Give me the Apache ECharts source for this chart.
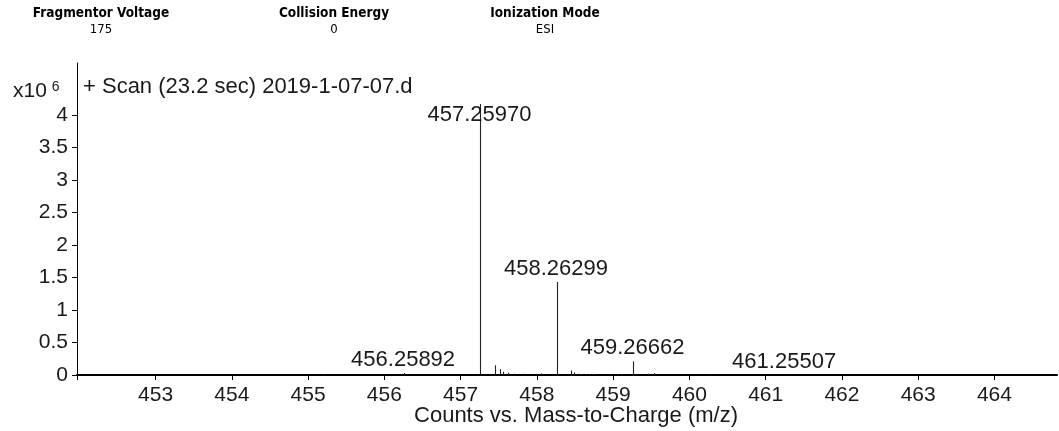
<!DOCTYPE html>
<html>
<head>
<meta charset="utf-8">
<title>Scan (23.2 sec) 2019-1-07-07.d</title>
<script src="https://cdn.jsdelivr.net/npm/echarts@6/dist/echarts.min.js"></script>
<style>
  html, body { margin: 0; padding: 0; background: #fff; }
  #chart { width: 1059px; height: 431px; }
</style>
</head>
<body>
<div id="chart"></div>
<script>
// Acquisition parameters shown in the header
const headerNames = ['Fragmentor Voltage', 'Collision Energy', 'Ionization Mode'];
const headerValues = ['175', '0', 'ESI'];

// Centroided spectrum: m/z and abundance (counts, x10^6)
const mzValues = [
  455.213, 456.25892, 457.25970, 457.447, 457.519, 457.553, 457.618, 457.706,
  457.837, 458.056, 458.26299, 458.450, 458.493, 458.525, 458.537, 458.560,
  458.580, 458.647, 458.681, 458.717, 458.752, 458.953, 459.062, 459.120,
  459.26662, 459.456, 459.535, 460.274, 461.25507
];
const intensities = [
  0.015, 0.03, 4.17, 0.15, 0.09, 0.05, 0.035, 0.02,
  0.02, 0.025, 1.43, 0.07, 0.04, 0.012, 0.02, 0.012,
  0.012, 0.015, 0.015, 0.015, 0.015, 0.015, 0.015, 0.015,
  0.21, 0.02, 0.03, 0.015, 0.006
];
// Peaks annotated with their m/z
const labelledPeaks = [456.25892, 457.25970, 458.26299, 459.26662, 461.25507];

// Axis ticks
const mzTicks = [453, 454, 455, 456, 457, 458, 459, 460, 461, 462, 463, 464];
const countTicks = [0, 0.5, 1, 1.5, 2, 2.5, 3, 3.5, 4];

const mzMin = 451.97;
const mzMax = 464.82;
const countMax = 4.8;

const spectrum = mzValues.map((mz, i) => [mz, intensities[i]]);

const chart = echarts.init(document.getElementById('chart'), null, { renderer: 'canvas' });

const textColor = '#1a1a1a';
const labelFont = 'Liberation Sans, Arial, sans-serif';
const headerFont = '"DejaVu Sans Condensed", "DejaVu Sans", sans-serif';
const headerCenters = [101, 334, 545];

function renderStick(params, api) {
  const mz = api.value(0);
  const v = api.value(1);
  const base = api.coord([mz, 0]);
  const top = api.coord([mz, v]);
  const x = Math.round(base[0]) + 0.5;
  const children = [{
    type: 'line',
    shape: { x1: x, y1: base[1], x2: x, y2: Math.min(top[1], base[1] - 0.6) },
    style: { stroke: '#222', lineWidth: 1.1 }
  }];
  if (labelledPeaks.indexOf(mz) >= 0) {
    // keep annotation at or below the highest labelled tick
    const ceiling = api.coord([mz, countTicks[countTicks.length - 1]])[1];
    const ly = Math.max(top[1] - 13, ceiling);
    children.push({
      type: 'text',
      style: {
        x: base[0] - 1, y: ly,
        text: mz.toFixed(5),
        font: '22px ' + labelFont,
        fill: textColor,
        align: 'center',
        verticalAlign: 'middle'
      },
      z2: 10
    });
  }
  return { type: 'group', children: children };
}

const headerGraphics = [];
headerNames.forEach((name, i) => {
  headerGraphics.push({
    type: 'text', x: headerCenters[i], y: 13,
    style: {
      text: name, font: 'bold 13.5px ' + headerFont, fill: '#000',
      align: 'center', verticalAlign: 'middle'
    }
  });
  headerGraphics.push({
    type: 'text', x: headerCenters[i], y: 30,
    style: {
      text: headerValues[i], font: '13px ' + headerFont, fill: '#000',
      align: 'center', verticalAlign: 'middle'
    }
  });
});

const option = {
  animation: false,
  backgroundColor: '#fff',
  grid: { left: 77, right: 2, top: 63, bottom: 56, containLabel: false, outerBoundsMode: 'none' },
  xAxis: {
    type: 'value',
    min: mzMin,
    max: mzMax,
    name: 'Counts vs. Mass-to-Charge (m/z)',
    nameLocation: 'middle',
    nameGap: 30,
    nameMoveOverlap: false,
    nameTextStyle: { fontSize: 22, fontFamily: labelFont, color: textColor, padding: [0, 0, 0, 18] },
    axisLine: { show: true, onZero: false, lineStyle: { color: '#000', width: 2 } },
    axisTick: { show: true, inside: false, length: 5, customValues: [mzMin].concat(mzTicks), lineStyle: { color: '#000', width: 1 } },
    axisLabel: { show: true, customValues: mzTicks, margin: 10, fontSize: 21, fontFamily: labelFont, color: textColor },
    splitLine: { show: false }
  },
  yAxis: {
    type: 'value',
    min: 0,
    max: countMax,
    axisLine: { show: true, lineStyle: { color: '#000', width: 1 } },
    axisTick: { show: true, inside: false, length: 5, customValues: countTicks, lineStyle: { color: '#000', width: 1 } },
    axisLabel: {
      show: true, customValues: countTicks, margin: 9, fontSize: 21, fontFamily: labelFont, color: textColor,
      formatter: v => String(v)
    },
    splitLine: { show: false }
  },
  graphic: headerGraphics.concat([
    {
      type: 'text', x: 13, y: 91,
      style: {
        text: 'x10{sup|6}',
        font: '21px ' + labelFont, fill: textColor, verticalAlign: 'middle',
        rich: { sup: { fontSize: 14, fontFamily: labelFont, verticalAlign: 'top', padding: [0, 0, 8, 5], fill: textColor } }
      }
    },
    {
      type: 'text', x: 83, y: 87,
      style: { text: '+ Scan (23.2 sec) 2019-1-07-07.d', font: '22px ' + labelFont, fill: textColor, verticalAlign: 'middle' }
    }
  ]),
  series: [{
    type: 'custom',
    renderItem: renderStick,
    data: spectrum,
    encode: { x: 0, y: 1 },
    clip: true,
    silent: true
  }]
};

chart.setOption(option);
</script>
</body>
</html>
